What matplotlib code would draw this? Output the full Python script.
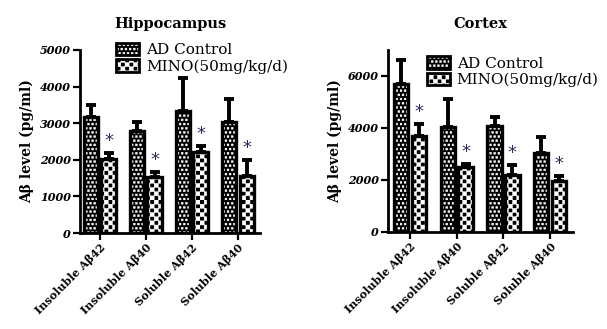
import warnings
import numpy as np
import matplotlib
matplotlib.use("Agg")
import matplotlib.pyplot as plt
from matplotlib import hatch as mhatch
from matplotlib.path import Path
from matplotlib.patches import Patch

warnings.filterwarnings("ignore")

# ---------------- data ----------------
categories = ["Insoluble Aβ42", "Insoluble Aβ40", "Soluble Aβ42", "Soluble Aβ40"]
series_names = ["AD Control", "MINO(50mg/kg/d)"]

hippo_control = [3160, 2790, 3320, 3020]
hippo_control_err = [340, 230, 910, 640]
hippo_mino = [2020, 1530, 2210, 1560]
hippo_mino_err = [160, 150, 170, 430]

cortex_control = [5680, 4050, 4070, 3050]
cortex_control_err = [940, 1070, 360, 610]
cortex_mino = [3700, 2500, 2180, 1950]
cortex_mino_err = [450, 110, 400, 200]

hippo_ticks = [0, 1000, 2000, 3000, 4000, 5000]
cortex_ticks = [0, 2000, 4000, 6000]


# ------------- custom checkerboard / dot hatches -------------
class Checker(mhatch.HatchPatternBase):
    filled = True

    def __init__(self, hatch, density):
        self.n = hatch.count('c') * density
        self.num_vertices = (2 * self.n) * (2 * self.n) // 2 * 5 if self.n else 0

    def set_vertices_and_codes(self, vertices, codes):
        m = 2 * self.n
        s = 1.0 / m
        vs, cs = [], []
        sq = np.array([[0, 0], [1, 0], [1, 1], [0, 1], [0, 0]], float) * s
        sc = [Path.MOVETO, Path.LINETO, Path.LINETO, Path.LINETO, Path.CLOSEPOLY]
        for i in range(m):
            for j in range(m):
                if (i + j) % 2 == 0:
                    vs.append(sq + [i * s, j * s])
                    cs.extend(sc)
        vertices[:] = np.concatenate(vs)
        codes[:] = cs


class Dots(mhatch.HatchPatternBase):
    filled = True

    def __init__(self, hatch, density):
        self.n = hatch.count('d') * density
        self.num_vertices = self.n * self.n * 5 if self.n else 0

    def set_vertices_and_codes(self, vertices, codes):
        m = self.n
        s = 1.0 / m
        d = s * 0.45
        vs, cs = [], []
        sq = np.array([[0, 0], [1, 0], [1, 1], [0, 1], [0, 0]], float) * d
        sc = [Path.MOVETO, Path.LINETO, Path.LINETO, Path.LINETO, Path.CLOSEPOLY]
        for i in range(m):
            for j in range(m):
                vs.append(sq + [i * s + (s / 2 if j % 2 else 0), j * s])
                cs.extend(sc)
        vertices[:] = np.concatenate(vs)
        codes[:] = cs


mhatch._hatch_types.append(Checker)
mhatch._hatch_types.append(Dots)

plt.rcParams['hatch.linewidth'] = 0.3
plt.rcParams['font.family'] = ['DejaVu Serif']

HATCH_CTRL = 'dddd'
HATCH_MINO = 'cc'

W, H = 607, 329
fig = plt.figure(figsize=(W / 100, H / 100), dpi=100)
fig.patch.set_facecolor('white')

star_color = '#2e2a5c'


def draw_panel(rect, title, ctrl, ctrl_err, mino, mino_err, yticks, ylim, xlim,
               leg_anchor):
    ax = fig.add_axes(rect)
    x = np.arange(len(categories))
    w = 0.31
    off = 0.19
    for vals, errs, sign, hatch in [(ctrl, ctrl_err, -1, HATCH_CTRL),
                                    (mino, mino_err, 1, HATCH_MINO)]:
        xs = x + sign * off
        ax.errorbar(xs, vals, yerr=[np.zeros(len(errs)), errs], fmt='none',
                    ecolor='black', elinewidth=2.8, capsize=3.6, capthick=2.8,
                    zorder=1)
        ax.bar(xs, vals, width=w, color='black', edgecolor='white', hatch=hatch,
               linewidth=0, zorder=2)
        ax.bar(xs, vals, width=w, facecolor='none', edgecolor='black',
               linewidth=2.4, zorder=3)
    # asterisks
    for xi, v, e in zip(x + off, mino, mino_err):
        ax.annotate('*', (xi, v + e), xytext=(0, 2), textcoords='offset points',
                    ha='center', va='bottom', fontsize=13, color=star_color,
                    family='DejaVu Sans')
    ax.set_xlim(*xlim)
    ax.set_ylim(*ylim)
    ax.set_yticks(yticks)
    ax.set_yticklabels([str(t) for t in yticks], fontsize=8, fontweight='bold',
                       fontstyle='italic')
    ax.set_xticks(x)
    ax.set_xticklabels(categories, rotation=45, ha='right', rotation_mode='anchor',
                       fontsize=8, fontweight='bold')
    for s in ['top', 'right']:
        ax.spines[s].set_visible(False)
    for s in ['left', 'bottom']:
        ax.spines[s].set_linewidth(2)
    ax.tick_params(axis='both', width=1.6, length=5, pad=1.5)
    ax.set_ylabel('Aβ level (pg/ml)', fontsize=10, fontweight='bold', labelpad=4)
    ax.set_title(title, fontsize=10.5, fontweight='bold', pad=16)

    handles = []
    for hatch in [HATCH_CTRL, HATCH_MINO]:
        h1 = Patch(facecolor='black', edgecolor='white', hatch=hatch, linewidth=0)
        h2 = Patch(facecolor='none', edgecolor='black', linewidth=2)
        handles.append((h1, h2))
    ax.legend(handles, series_names, loc='upper left', bbox_to_anchor=leg_anchor,
              frameon=False, fontsize=11, handlelength=1.5, handleheight=0.85,
              labelspacing=0.15, handletextpad=0.45, borderaxespad=0,
              borderpad=0)
    return ax


draw_panel([80 / W, 1 - 233 / H, 180 / W, 183 / H], 'Hippocampus',
           hippo_control, hippo_control_err, hippo_mino, hippo_mino_err,
           hippo_ticks, (0, 5000), (-0.43, 3.48), (0.2, 1.04))
draw_panel([388 / W, 1 - 232 / H, 185 / W, 182 / H], 'Cortex',
           cortex_control, cortex_control_err, cortex_mino, cortex_mino_err,
           cortex_ticks, (0, 7000), (-0.47, 3.49), (0.21, 0.965))

fig.savefig('out.png', dpi=100, facecolor='white')
